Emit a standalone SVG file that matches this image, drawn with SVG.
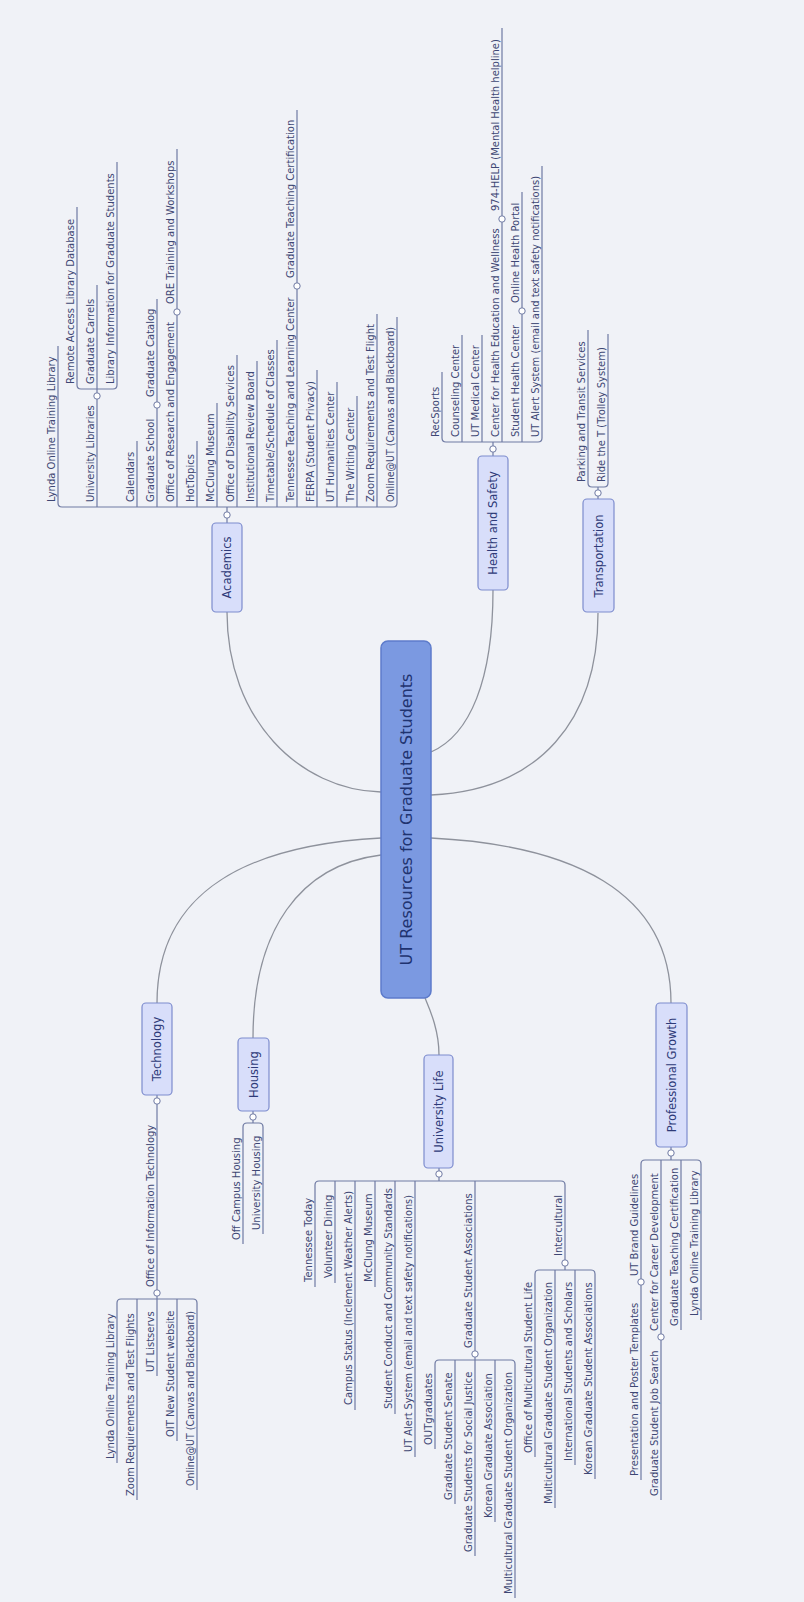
<svg xmlns="http://www.w3.org/2000/svg" width="804" height="1602" viewBox="0 0 804 1602">
<style>
.c{fill:none;stroke:#8e929c;stroke-width:1.3}
.l{fill:none;stroke:#6f7aa3;stroke-width:1.2}
.tg{fill:#ffffff;stroke:#6f7aa3;stroke-width:1}
.t{font-family:"DejaVu Sans",Verdana,sans-serif;font-size:10px;fill:#3e4774}
.m1 rect{fill:#d8defa;stroke:#7d8cce;stroke-width:1.2}
.m1 text{font-family:"DejaVu Sans",Verdana,sans-serif;font-size:11.5px;fill:#2e3a78;text-anchor:middle;dominant-baseline:central}
.root rect{fill:#7b99e1;stroke:#5d7bcb;stroke-width:1.5}
.root text{font-family:"DejaVu Sans",Verdana,sans-serif;font-size:16px;fill:#1f3370;text-anchor:middle;dominant-baseline:central}
</style>
<rect x="0" y="0" width="804" height="1602" fill="#f0f2f7"/>
<g id="connectors">
<path class="c" d="M227,612 C227,720 300,790 381,792"/>
<path class="c" d="M493,590 C493,680 470,735 431,752"/>
<path class="c" d="M598,613 C598,720 540,790 431,795"/>
<path class="c" d="M157,1003 C157,890 250,845 381,838"/>
<path class="c" d="M253,1038 C253,930 300,865 381,855"/>
<path class="c" d="M439,1055 C439,1030 430,1010 425,998"/>
<path class="c" d="M671,1003 C671,890 570,845 431,838"/>
<path class="l" d="M227,523 V507"/>
<path class="l" d="M58,346 V503 Q58,507 62,507 H393 Q397,507 397,503 V317"/>
<path class="l" d="M97,507 V389 M137,507 V441 M157,507 V299 M177,507 V149 M197,507 V441 M217,507 V403 M237,507 V355 M257,507 V361 M277,507 V340 M297,507 V110 M317,507 V370 M337,507 V382 M357,507 V396 M377,507 V314"/>
<path class="l" d="M77,207 V385 Q77,389 81,389 H113 Q117,389 117,385 V162 M97,389 V285"/>
<circle class="tg" cx="227" cy="515" r="3.2"/>
<circle class="tg" cx="97" cy="396" r="3.2"/>
<circle class="tg" cx="157" cy="405" r="3.2"/>
<circle class="tg" cx="177" cy="312" r="3.2"/>
<circle class="tg" cx="297" cy="286" r="3.2"/>
<path class="l" d="M493,456 V442"/>
<path class="l" d="M442,372 V438 Q442,442 446,442 H538 Q542,442 542,438 V166"/>
<path class="l" d="M462,442 V335 M482,442 V335 M502,442 V28 M522,442 V192"/>
<circle class="tg" cx="493" cy="449" r="3.2"/>
<circle class="tg" cx="502" cy="219" r="3.2"/>
<circle class="tg" cx="522" cy="311" r="3.2"/>
<path class="l" d="M598,499 V487"/>
<path class="l" d="M588,330 V483 Q588,487 592,487 H604 Q608,487 608,483 V334"/>
<circle class="tg" cx="598" cy="493" r="3.2"/>
<path class="l" d="M157,1095 V1299"/>
<path class="l" d="M117,1463 V1303 Q117,1299 121,1299 H193 Q197,1299 197,1303 V1490"/>
<path class="l" d="M137,1299 V1500 M157,1299 V1376 M177,1299 V1441"/>
<circle class="tg" cx="157" cy="1101" r="3.2"/>
<circle class="tg" cx="157" cy="1293" r="3.2"/>
<path class="l" d="M253,1111 V1123"/>
<path class="l" d="M243,1244 V1127 Q243,1123 247,1123 H259 Q263,1123 263,1127 V1234"/>
<circle class="tg" cx="253" cy="1117" r="3.2"/>
<path class="l" d="M439,1168 V1181"/>
<path class="l" d="M315,1287 V1185 Q315,1181 319,1181 H561 Q565,1181 565,1185 V1270"/>
<path class="l" d="M335,1181 V1283 M355,1181 V1410 M375,1181 V1287 M395,1181 V1414 M415,1181 V1457 M475,1181 V1556"/>
<path class="l" d="M435,1449 V1364 Q435,1360 439,1360 H511 Q515,1360 515,1364 V1598 M455,1360 V1504 M495,1360 V1522"/>
<path class="l" d="M535,1457 V1274 Q535,1270 539,1270 H591 Q595,1270 595,1274 V1479 M555,1270 V1508 M575,1270 V1465"/>
<circle class="tg" cx="439" cy="1174" r="3.2"/>
<circle class="tg" cx="475" cy="1354" r="3.2"/>
<circle class="tg" cx="565" cy="1263" r="3.2"/>
<path class="l" d="M671,1147 V1160"/>
<path class="l" d="M641,1480 V1164 Q641,1160 645,1160 H697 Q701,1160 701,1164 V1320"/>
<path class="l" d="M661,1160 V1500 M681,1160 V1330"/>
<circle class="tg" cx="671" cy="1153" r="3.2"/>
<circle class="tg" cx="641" cy="1282" r="3.2"/>
<circle class="tg" cx="661" cy="1337" r="3.2"/>
</g>
<g id="root" class="root"><rect x="381" y="641" width="50" height="357" rx="7"/><text transform="translate(406,819.5) rotate(-90)">UT Resources for Graduate Students</text></g>
<g id="academics" class="m1"><rect x="212" y="523" width="30" height="89" rx="4"/><text transform="translate(227,567.5) rotate(-90)">Academics</text></g>
<g id="health" class="m1"><rect x="478" y="456" width="30" height="134" rx="4"/><text transform="translate(493,523) rotate(-90)">Health and Safety</text></g>
<g id="transportation" class="m1"><rect x="583" y="499" width="31" height="113" rx="4"/><text transform="translate(598.5,556) rotate(-90)">Transportation</text></g>
<g id="technology" class="m1"><rect x="142" y="1003" width="30" height="92" rx="4"/><text transform="translate(157,1049) rotate(-90)">Technology</text></g>
<g id="housing" class="m1"><rect x="238" y="1038" width="31" height="73" rx="4"/><text transform="translate(253.5,1074.5) rotate(-90)">Housing</text></g>
<g id="university-life" class="m1"><rect x="424" y="1055" width="29" height="113" rx="4"/><text transform="translate(438.5,1111.5) rotate(-90)">University Life</text></g>
<g id="professional-growth" class="m1"><rect x="656" y="1003" width="31" height="144" rx="4"/><text transform="translate(671.5,1075) rotate(-90)">Professional Growth</text></g>
<g id="ac-lynda"><text class="t" transform="translate(55,502) rotate(-90)">Lynda Online Training Library</text></g>
<g id="ac-libraries"><text class="t" transform="translate(94,502) rotate(-90)">University Libraries</text></g>
<g id="ac-remote"><text class="t" transform="translate(74,384) rotate(-90)">Remote Access Library Database</text></g>
<g id="ac-carrels"><text class="t" transform="translate(94,384) rotate(-90)">Graduate Carrels</text></g>
<g id="ac-libinfo"><text class="t" transform="translate(114,384) rotate(-90)">Library Information for Graduate Students</text></g>
<g id="ac-calendars"><text class="t" transform="translate(134,502) rotate(-90)">Calendars</text></g>
<g id="ac-gradschool"><text class="t" transform="translate(154,502) rotate(-90)">Graduate School</text></g>
<g id="ac-catalog"><text class="t" transform="translate(154,397) rotate(-90)">Graduate Catalog</text></g>
<g id="ac-ore"><text class="t" transform="translate(174,502) rotate(-90)">Office of Research and Engagement</text></g>
<g id="ac-oretraining"><text class="t" transform="translate(174,304) rotate(-90)">ORE Training and Workshops</text></g>
<g id="ac-hottopics"><text class="t" transform="translate(194,502) rotate(-90)">HotTopics</text></g>
<g id="ac-mcclung"><text class="t" transform="translate(214,502) rotate(-90)">McClung Museum</text></g>
<g id="ac-disability"><text class="t" transform="translate(234,502) rotate(-90)">Office of Disability Services</text></g>
<g id="ac-irb"><text class="t" transform="translate(254,502) rotate(-90)">Institutional Review Board</text></g>
<g id="ac-timetable"><text class="t" transform="translate(274,502) rotate(-90)">Timetable/Schedule of Classes</text></g>
<g id="ac-ttlc"><text class="t" transform="translate(294,502) rotate(-90)">Tennessee Teaching and Learning Center</text></g>
<g id="ac-gtc"><text class="t" transform="translate(294,278) rotate(-90)">Graduate Teaching Certification</text></g>
<g id="ac-ferpa"><text class="t" transform="translate(314,502) rotate(-90)">FERPA (Student Privacy)</text></g>
<g id="ac-humanities"><text class="t" transform="translate(334,502) rotate(-90)">UT Humanities Center</text></g>
<g id="ac-writing"><text class="t" transform="translate(354,502) rotate(-90)">The Writing Center</text></g>
<g id="ac-zoom"><text class="t" transform="translate(374,502) rotate(-90)" textLength="178" lengthAdjust="spacingAndGlyphs">Zoom Requirements and Test Flight</text></g>
<g id="ac-online"><text class="t" transform="translate(394,502) rotate(-90)" textLength="175" lengthAdjust="spacingAndGlyphs">Online@UT (Canvas and Blackboard)</text></g>
<g id="hs-recsports"><text class="t" transform="translate(439,437) rotate(-90)">RecSports</text></g>
<g id="hs-counseling"><text class="t" transform="translate(459,437) rotate(-90)">Counseling Center</text></g>
<g id="hs-medical"><text class="t" transform="translate(479,437) rotate(-90)">UT Medical Center</text></g>
<g id="hs-chew"><text class="t" transform="translate(499,437) rotate(-90)">Center for Health Education and Wellness</text></g>
<g id="hs-help"><text class="t" transform="translate(499,211) rotate(-90)">974-HELP (Mental Health helpline)</text></g>
<g id="hs-shc"><text class="t" transform="translate(519,437) rotate(-90)">Student Health Center</text></g>
<g id="hs-portal"><text class="t" transform="translate(519,303) rotate(-90)">Online Health Portal</text></g>
<g id="hs-alert"><text class="t" transform="translate(539,437) rotate(-90)" textLength="261" lengthAdjust="spacingAndGlyphs">UT Alert System (email and text safety notifications)</text></g>
<g id="tr-parking"><text class="t" transform="translate(585,482) rotate(-90)">Parking and Transit Services</text></g>
<g id="tr-ride"><text class="t" transform="translate(605,482) rotate(-90)">Ride the T (Trolley System)</text></g>
<g id="te-oit"><text class="t" transform="translate(154,1287) rotate(-90)">Office of Information Technology</text></g>
<g id="te-lynda"><text class="t" transform="translate(114,1459) rotate(-90)">Lynda Online Training Library</text></g>
<g id="te-zoom"><text class="t" transform="translate(134,1496) rotate(-90)">Zoom Requirements and Test Flights</text></g>
<g id="te-listserv"><text class="t" transform="translate(154,1372) rotate(-90)">UT Listservs</text></g>
<g id="te-newstudent"><text class="t" transform="translate(174,1437) rotate(-90)">OIT New Student website</text></g>
<g id="te-online"><text class="t" transform="translate(194,1486) rotate(-90)" textLength="175" lengthAdjust="spacingAndGlyphs">Online@UT (Canvas and Blackboard)</text></g>
<g id="ho-off"><text class="t" transform="translate(240,1240) rotate(-90)">Off Campus Housing</text></g>
<g id="ho-univ"><text class="t" transform="translate(260,1230) rotate(-90)">University Housing</text></g>
<g id="ul-today"><text class="t" transform="translate(312,1282) rotate(-90)">Tennessee Today</text></g>
<g id="ul-dining"><text class="t" transform="translate(332,1278) rotate(-90)">Volunteer Dining</text></g>
<g id="ul-status"><text class="t" transform="translate(352,1405) rotate(-90)">Campus Status (Inclement Weather Alerts)</text></g>
<g id="ul-mcclung"><text class="t" transform="translate(372,1282) rotate(-90)">McClung Museum</text></g>
<g id="ul-conduct"><text class="t" transform="translate(392,1409) rotate(-90)">Student Conduct and Community Standards</text></g>
<g id="ul-alert"><text class="t" transform="translate(412,1452) rotate(-90)" textLength="257" lengthAdjust="spacingAndGlyphs">UT Alert System (email and text safety notifications)</text></g>
<g id="ul-gsa"><text class="t" transform="translate(472,1348) rotate(-90)">Graduate Student Associations</text></g>
<g id="ul-out"><text class="t" transform="translate(432,1445) rotate(-90)">OUTgraduates</text></g>
<g id="ul-senate"><text class="t" transform="translate(452,1500) rotate(-90)">Graduate Student Senate</text></g>
<g id="ul-justice"><text class="t" transform="translate(472,1552) rotate(-90)">Graduate Students for Social Justice</text></g>
<g id="ul-kga"><text class="t" transform="translate(492,1518) rotate(-90)">Korean Graduate Association</text></g>
<g id="ul-mgso"><text class="t" transform="translate(512,1594) rotate(-90)">Multicultural Graduate Student Organization</text></g>
<g id="ul-intercultural"><text class="t" transform="translate(562,1256) rotate(-90)">Intercultural</text></g>
<g id="ul-omsl"><text class="t" transform="translate(532,1453) rotate(-90)">Office of Multicultural Student Life</text></g>
<g id="ul-mgso2"><text class="t" transform="translate(552,1504) rotate(-90)">Multicultural Graduate Student Organization</text></g>
<g id="ul-iss"><text class="t" transform="translate(572,1461) rotate(-90)">International Students and Scholars</text></g>
<g id="ul-kgsa"><text class="t" transform="translate(592,1475) rotate(-90)">Korean Graduate Student Associations</text></g>
<g id="pg-brand"><text class="t" transform="translate(638,1276) rotate(-90)">UT Brand Guidelines</text></g>
<g id="pg-templates"><text class="t" transform="translate(638,1476) rotate(-90)">Presentation and Poster Templates</text></g>
<g id="pg-career"><text class="t" transform="translate(658,1331) rotate(-90)">Center for Career Development</text></g>
<g id="pg-jobsearch"><text class="t" transform="translate(658,1496) rotate(-90)">Graduate Student Job Search</text></g>
<g id="pg-gtc"><text class="t" transform="translate(678,1326) rotate(-90)">Graduate Teaching Certification</text></g>
<g id="pg-lynda"><text class="t" transform="translate(698,1316) rotate(-90)">Lynda Online Training Library</text></g>
</svg>
